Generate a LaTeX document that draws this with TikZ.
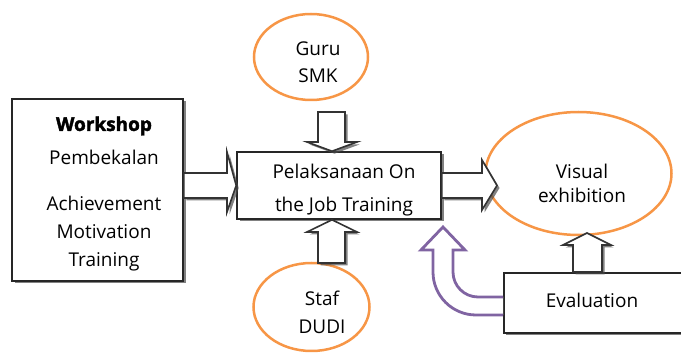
\documentclass[tikz,border=0pt]{standalone}
\usepackage{fontspec}
\setmainfont{Open Sans}
\usetikzlibrary{shadows}
\definecolor{orng}{RGB}{247,150,70}
\definecolor{purp}{RGB}{128,100,162}
\begin{document}
\begin{tikzpicture}[x=1pt,y=-1pt,
  shd/.style={drop shadow={shadow xshift=2.5pt,shadow yshift=-2.5pt,fill=black!70,opacity=0.7}},
  boxstyle/.style={draw=black!85,line width=1.6pt,fill=white,shd,inner sep=0pt},
  ell/.style={draw=orng,line width=2.5pt,fill=white},
  barrow/.style={draw=black!80,line width=1.6pt,fill=white,shd,line join=miter},
  txt/.style={font=\fontsize{19}{#1}\selectfont,align=center,text=black,inner sep=0pt},
  txt/.default=28]
\useasboundingbox (0,0) rectangle (681,358);
\clip (0,0) rectangle (681,358);
% boxes
\node[boxstyle,minimum width=171pt,minimum height=182pt] (lbox) at (97.5,190) {};
\node[boxstyle,minimum width=204pt,minimum height=67pt] (cbox) at (339,185.5) {};
\node[boxstyle,minimum width=190pt,minimum height=60pt,anchor=north west] (ebox) at (503,272) {};
% ellipses
\draw[ell] (311,57) ellipse [x radius=57,y radius=43];
\node (guru) at (311,57) {};
\draw[ell] (311.5,307) ellipse [x radius=58,y radius=44];
\node (staf) at (311.5,307) {};
\draw[ell] (578.5,173.5) ellipse [x radius=93,y radius=61.5];
\node (vis) at (578.5,173.5) {};
% texts
\node[txt] (tw) at (104,126) {\bfseries\addfontfeature{FakeBold=2}Workshop};
\node[txt] (tp) at (104,157) {Pembekalan};
\node[txt] (ta) at (104,234) {Achievement\\Motivation\\Training};
\node[txt=33] (tc) at (344,190) {Pelaksanaan On\\the Job Training};
\node[txt=27] (tg) at (318,62) {Guru\\SMK};
\node[txt=28] (ts) at (322,312) {Staf\\DUDI};
\node[txt=24] (tv) at (582,183) {Visual\\exhibition};
\node[txt] (te) at (592,300) {Evaluation};
% block arrows
\draw[barrow] (lbox.east |- 0,173) -- (227,173) -- (227,152) -- (cbox.west |- 0,185.5) -- (227,212) -- (227,198) -- (lbox.east |- 0,198) -- cycle;
\draw[barrow] (cbox.east |- 0,173) -- (482,173) -- (482,160) -- (497,185.5) -- (482,210) -- (482,198) -- (cbox.east |- 0,198) -- cycle;
\draw[barrow] (318,112) -- (345,112) -- (345,142) -- (357,142) -- (cbox.north -| 332,0) -- (307,142) -- (318,142) -- cycle;
\draw[barrow] (318,263) -- (345,263) -- (345,232) -- (357,232) -- (cbox.south -| 332,0) -- (307,232) -- (318,232) -- cycle;
\draw[barrow] (ebox.north -| 573,0) -- (ebox.north -| 602,0) -- (602,245) -- (611,245) -- (587,233) -- (563,245) -- (573,245) -- cycle;
% purple U-turn arrow
\draw[draw=purp,line width=2.8pt,fill=white,line join=miter]
  (ebox.west |- 0,297) -- (478,297) arc[start angle=90,end angle=180,radius=25] -- (453,250) -- (465,250) -- (443,227) -- (421,250) -- (433,250) -- (433,272) arc[start angle=180,end angle=90,radius=43] -- (ebox.west |- 0,315);
\end{tikzpicture}
\end{document}
